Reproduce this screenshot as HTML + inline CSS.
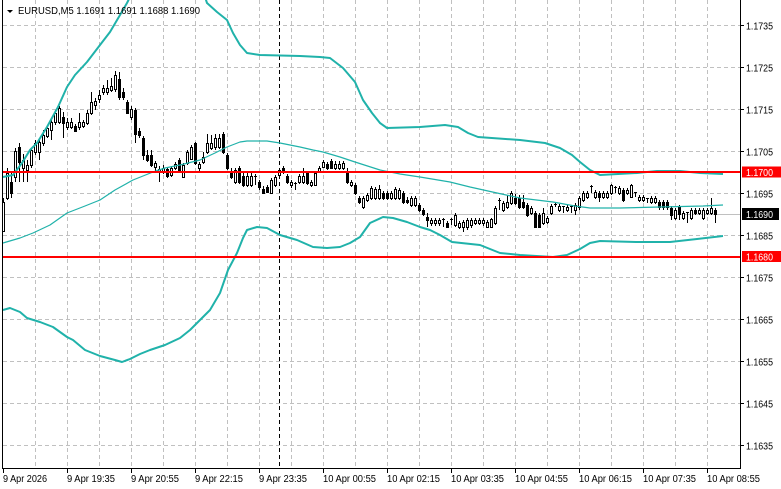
<!DOCTYPE html>
<html>
<head>
<meta charset="utf-8">
<style>
html,body{margin:0;padding:0;background:#fff;}
body{width:781px;height:489px;overflow:hidden;}
svg{display:block;}
text{font-family:"Liberation Sans",sans-serif;font-size:10px;fill:#000;}
</style>
</head>
<body>
<svg width="781" height="489" viewBox="0 0 781 489" xmlns="http://www.w3.org/2000/svg">
<rect x="0" y="0" width="781" height="489" fill="#fff"/>
<!-- grid -->
<g stroke="#c0c0c0" stroke-width="1" stroke-dasharray="4 3" shape-rendering="crispEdges" fill="none">
<path d="M3 25.5H740M3 67.5H740M3 109.5H740M3 151.5H740M3 193.5H740M3 235.5H740M3 277.5H740M3 319.5H740M3 361.5H740M3 403.5H740M3 445.5H740"/>
<path d="M35.5 0V468M67.5 0V468M99.5 0V468M131.5 0V468M163.5 0V468M195.5 0V468M227.5 0V468M259.5 0V468M291.5 0V468M323.5 0V468M355.5 0V468M387.5 0V468M419.5 0V468M451.5 0V468M483.5 0V468M515.5 0V468M547.5 0V468M579.5 0V468M611.5 0V468M643.5 0V468M675.5 0V468M707.5 0V468"/>
</g>
<!-- period separator -->
<path d="M279.5 0V468" stroke="#000" stroke-width="1" stroke-dasharray="4 3" shape-rendering="crispEdges"/>
<!-- current price line -->
<path d="M3 214.5H740" stroke="#c0c0c0" stroke-width="1" shape-rendering="crispEdges"/>
<!-- candles -->
<g shape-rendering="crispEdges" fill="none">
<path stroke="#000" stroke-width="1" d="M3.5 198V232M7.5 168V200M11.5 172V198M15.5 148V182M19.5 143V182M23.5 154V182M27.5 160V182M31.5 148V168M35.5 140V155M39.5 138V160M43.5 130V146M47.5 125V138M51.5 120V140M55.5 110V125M59.5 106V124M63.5 112V138M67.5 118V130M71.5 118V129M75.5 124V132M79.5 113V130M83.5 120V128M87.5 110V125M91.5 92V115M95.5 98V110M99.5 90V103M103.5 85V95M107.5 80V95M111.5 78V92M115.5 71V92M119.5 72V100M123.5 88V100M127.5 100V114M131.5 106V120M135.5 108V143M139.5 128V138M143.5 136V160M147.5 150V162M151.5 150V167M155.5 161V172M159.5 166V182M163.5 165V174M167.5 167V178M171.5 166V177M175.5 162V170M179.5 158V172M183.5 163V178M187.5 150V165M191.5 145V160M195.5 142V165M199.5 162V172M203.5 152V164M207.5 134V154M211.5 135V150M215.5 134V150M219.5 134V149M223.5 132V154M227.5 153V170M231.5 168V179M235.5 168V184M239.5 166V184M243.5 172V187M247.5 172V187M251.5 172V187M255.5 174V185M259.5 180V190M263.5 186V194M267.5 185V193M271.5 178V194M275.5 175V187M279.5 168V177M283.5 166V174M287.5 174V184M291.5 180V188M295.5 182V190M299.5 174V184M303.5 168V184M307.5 171V185M311.5 180V187M315.5 171V186M319.5 166V173M323.5 160V168M327.5 162V170M331.5 159V169M335.5 161V170M339.5 161V170M343.5 161V170M347.5 168V184M351.5 180V187M355.5 183V195M359.5 196V204M363.5 196V209M367.5 193V202M371.5 186V200M375.5 187V200M379.5 185V200M383.5 191V200M387.5 191V200M391.5 191V200M395.5 187V200M399.5 188V200M403.5 191V204M407.5 197V204M411.5 196V207M415.5 196V207M419.5 203V212M423.5 208V216M427.5 213V227M431.5 218V226M435.5 218V226M439.5 218V226M443.5 218V227M447.5 221V228M451.5 218V225M455.5 213V227M459.5 221V229M463.5 220V232M467.5 218V230M471.5 218V228M475.5 218V225M479.5 218V225M483.5 218V226M487.5 220V228M491.5 218V228M495.5 206V225M499.5 198V210M503.5 201V212M507.5 195V209M511.5 191V205M515.5 194V205M519.5 195V209M523.5 195V209M527.5 203V217M531.5 206V215M535.5 211V228M539.5 213V228M543.5 208V225M547.5 216V224M551.5 204V215M555.5 203V207M559.5 204V212M563.5 206V213M567.5 205V212M571.5 206V213M575.5 203V215M579.5 196V210M583.5 191V202M587.5 191V199M591.5 185V193M595.5 190V199M599.5 191V202M603.5 191V199M607.5 191V199M611.5 184V195M615.5 186V193M619.5 186V195M623.5 188V202M627.5 188V195M631.5 184V198M635.5 192V197M639.5 195V202M643.5 195V202M647.5 198V203M651.5 196V204M655.5 196V204M659.5 200V210M663.5 200V210M667.5 200V210M671.5 206V220M675.5 208V220M679.5 205V220M683.5 211V220M687.5 212V223M691.5 208V220M695.5 208V215M699.5 208V215M703.5 208V220M707.5 208V215M711.5 198V215M715.5 208V223"/>
<path stroke="#000" stroke-width="3" d="M3.5 202V232M7.5 173V199M11.5 182V194M15.5 151V178M19.5 147V163M23.5 160V169M27.5 165V171M31.5 150V166M35.5 143V153M39.5 142V153M43.5 135V144M47.5 128V137M51.5 122V131M55.5 113V123M59.5 108V123M63.5 117V124M67.5 122V128M71.5 122V128M75.5 126V132M79.5 122V128M83.5 122V127M87.5 113V124M91.5 102V114M95.5 101V106M99.5 95V100M103.5 88V93M107.5 88V93M111.5 86V91M115.5 75V90M119.5 79V98M123.5 92V98M127.5 102V114M131.5 109V118M135.5 110V135M139.5 131V136M143.5 138V156M147.5 155V161M151.5 155V166M155.5 163V168M159.5 169V172M163.5 168V173M167.5 169V177M171.5 168V176M175.5 164V169M179.5 160V171M183.5 165V178M187.5 152V164M191.5 147V160M195.5 143V164M199.5 164V169M203.5 157V163M207.5 143V153M211.5 143V149M215.5 138V148M219.5 138V148M223.5 134V153M227.5 155V169M231.5 172V178M235.5 170V183M239.5 168V183M243.5 176V186M247.5 176V186M251.5 176V186M255.5 176V177M259.5 182V188M263.5 189V194M267.5 187V193M271.5 180V194M275.5 177V186M279.5 170V176M283.5 168V173M287.5 176V183M291.5 182V186M295.5 183V184M299.5 176V183M303.5 176V183M307.5 173V184M311.5 182V186M315.5 173V186M319.5 168V172M323.5 162V168M327.5 164V169M331.5 161V169M335.5 164V169M339.5 164V169M343.5 163V169M347.5 173V183M351.5 182V186M355.5 185V194M359.5 198V203M363.5 198V208M367.5 195V201M371.5 188V199M375.5 189V199M379.5 189V199M383.5 193V199M387.5 193V199M391.5 193V199M395.5 189V199M399.5 190V199M403.5 193V203M407.5 200V203M411.5 198V206M415.5 198V206M419.5 205V211M423.5 210V215M427.5 217V221M431.5 220V224M435.5 220V224M439.5 220V224M443.5 219V220M447.5 223V228M451.5 219V220M455.5 215V226M459.5 223V228M463.5 222V228M467.5 220V228M471.5 220V226M475.5 220V224M479.5 220V224M483.5 220V224M487.5 222V228M491.5 219V228M495.5 208V224M499.5 200V201M503.5 203V211M507.5 202V208M511.5 193V204M515.5 198V204M519.5 198V208M523.5 202V208M527.5 205V216M531.5 208V214M535.5 213V228M539.5 215V228M543.5 213V224M547.5 218V223M551.5 206V214M555.5 204V205M559.5 206V211M563.5 206V207M567.5 207V211M571.5 206V207M575.5 205V211M579.5 198V208M583.5 193V201M587.5 193V198M591.5 186V187M595.5 192V198M599.5 193V198M603.5 193V198M607.5 193V198M611.5 185V194M615.5 187V188M619.5 188V194M623.5 190V201M627.5 190V194M631.5 185V198M635.5 192V193M639.5 197V201M643.5 197V201M647.5 198V199M651.5 198V203M655.5 198V203M659.5 202V208M663.5 202V208M667.5 202V208M671.5 208V216M675.5 210V219M679.5 207V215M683.5 213V219M687.5 212V213M691.5 210V219M695.5 210V214M699.5 210V214M703.5 210V219M707.5 210V214M711.5 208V214M715.5 210V215"/>
<path stroke="#fff" stroke-width="1" d="M3.5 203V231M7.5 174V198M15.5 152V177M23.5 161V168M27.5 166V170M31.5 151V165M35.5 144V152M39.5 143V152M43.5 136V143M47.5 129V136M51.5 123V130M55.5 114V122M59.5 109V122M67.5 123V127M71.5 123V127M79.5 123V127M83.5 123V126M87.5 114V123M91.5 103V113M95.5 102V105M99.5 96V99M103.5 89V92M107.5 89V92M111.5 87V90M115.5 76V89M131.5 110V117M155.5 164V167M159.5 170V171M163.5 169V172M171.5 169V175M175.5 165V168M183.5 166V177M187.5 153V163M191.5 148V159M199.5 165V168M203.5 158V162M207.5 144V152M211.5 144V148M215.5 139V147M219.5 139V147M235.5 171V182M247.5 177V185M251.5 177V185M271.5 181V193M275.5 178V185M279.5 171V175M291.5 183V185M299.5 177V182M303.5 177V182M311.5 183V185M315.5 174V185M319.5 169V171M323.5 163V167M335.5 165V168M339.5 165V168M343.5 164V168M351.5 183V185M363.5 199V207M367.5 196V200M371.5 189V198M375.5 190V198M379.5 190V198M391.5 194V198M395.5 190V198M399.5 191V198M411.5 199V205M415.5 199V205M431.5 221V223M435.5 221V223M439.5 221V223M455.5 216V225M459.5 224V227M463.5 223V227M467.5 221V227M471.5 221V225M475.5 221V223M479.5 221V223M483.5 221V223M487.5 223V227M491.5 220V227M495.5 209V223M503.5 204V210M507.5 203V207M511.5 194V203M531.5 209V213M543.5 214V223M547.5 219V222M551.5 207V213M559.5 207V210M567.5 208V210M575.5 206V210M579.5 199V207M583.5 194V200M587.5 194V197M595.5 193V197M603.5 194V197M607.5 194V197M611.5 186V193M619.5 189V193M627.5 191V193M631.5 186V197M639.5 198V200M643.5 198V200M651.5 199V202M655.5 199V202M675.5 211V218M683.5 214V218M691.5 211V218M699.5 211V213M703.5 211V218M707.5 211V213M711.5 209V213"/>
</g>
<!-- Bollinger bands -->
<g fill="none" stroke="#20b2aa" stroke-linejoin="round">
<polyline stroke-width="2" points="3,177 13,175 22,163 30,150 37,143 47,127 58,107 67,87 75,75 87,62 100,45 110,32 120,15 127,3 130,-3"/>
<polyline stroke-width="2" points="205,-3 207,3 217,12 227,20 233,33 240,45 247,53 260,55 300,56 320,57 330,58 343,68 355,82 363,100 372,113 380,123 387,128 420,127 445,125 458,127 468,133 478,137 520,140 545,143 560,148 572,155 580,162 590,170 600,175 637,173 657,171 680,171 700,173 723,174"/>
<polyline stroke-width="1.2" points="3,243 20,238 33,233 50,225 67,213 85,206 100,200 115,190 133,180 153,172 165,168 180,165 200,160 215,153 227,147 240,142 247,141 267,141 280,143 300,147 313,150 323,152 340,157 355,162 380,170 400,174 420,177 450,182 470,187 497,193 520,198 553,202 575,206 590,208 620,208 660,207 703,206 723,205"/>
<polyline stroke-width="2" points="3,310 10,308 20,312 27,318 40,322 53,327 67,337 73,340 85,350 100,356 115,360 122,362 130,359 140,354 150,350 165,345 180,338 190,330 200,320 210,310 220,293 228,270 237,253 243,238 247,230 257,227 267,228 280,235 297,240 313,247 327,248 340,247 350,243 360,237 370,223 383,217 393,218 407,222 420,227 430,230 440,235 452,242 480,245 500,253 520,255 553,257 567,255 580,249 590,243 600,241 637,242 670,242 697,239 723,236"/>
</g>
<!-- red horizontal lines -->
<rect x="3" y="171" width="737" height="2" fill="#ff0000"/>
<rect x="3" y="256" width="737" height="2" fill="#ff0000"/>
<!-- axes -->
<g stroke="#000" stroke-width="1" shape-rendering="crispEdges" fill="none">
<path d="M2.5 0V468.5M2 468.5H741M740.5 0V469"/>
<path d="M740 25.5H744M740 67.5H744M740 109.5H744M740 151.5H744M740 193.5H744M740 235.5H744M740 277.5H744M740 319.5H744M740 361.5H744M740 403.5H744M740 445.5H744"/>
<path d="M3.5 468V473M67.5 468V473M131.5 468V473M195.5 468V473M259.5 468V473M323.5 468V473M387.5 468V473M451.5 468V473M515.5 468V473M579.5 468V473M643.5 468V473M707.5 468V473"/>
</g>
<!-- price labels -->
<g>
<text x="746" y="29.5" textLength="27" lengthAdjust="spacingAndGlyphs">1.1735</text>
<text x="746" y="71.5" textLength="27" lengthAdjust="spacingAndGlyphs">1.1725</text>
<text x="746" y="113.5" textLength="27" lengthAdjust="spacingAndGlyphs">1.1715</text>
<text x="746" y="155.5" textLength="27" lengthAdjust="spacingAndGlyphs">1.1705</text>
<text x="746" y="197.5" textLength="27" lengthAdjust="spacingAndGlyphs">1.1695</text>
<text x="746" y="239.5" textLength="27" lengthAdjust="spacingAndGlyphs">1.1685</text>
<text x="746" y="281.5" textLength="27" lengthAdjust="spacingAndGlyphs">1.1675</text>
<text x="746" y="323.5" textLength="27" lengthAdjust="spacingAndGlyphs">1.1665</text>
<text x="746" y="365.5" textLength="27" lengthAdjust="spacingAndGlyphs">1.1655</text>
<text x="746" y="407.5" textLength="27" lengthAdjust="spacingAndGlyphs">1.1645</text>
<text x="746" y="449.5" textLength="27" lengthAdjust="spacingAndGlyphs">1.1635</text>
</g>
<rect x="742" y="166.5" width="39" height="11" fill="#ff0000"/>
<text x="746" y="176" textLength="27" lengthAdjust="spacingAndGlyphs" style="fill:#fff">1.1700</text>
<rect x="742" y="208" width="37" height="12" fill="#000"/>
<text x="746" y="218" textLength="27" lengthAdjust="spacingAndGlyphs" style="fill:#fff">1.1690</text>
<rect x="742" y="251" width="39" height="11" fill="#ff0000"/>
<text x="746" y="260.5" textLength="27" lengthAdjust="spacingAndGlyphs" style="fill:#fff">1.1680</text>
<!-- time labels -->
<g>
<text x="3" y="482" textLength="44" lengthAdjust="spacingAndGlyphs">9 Apr 2026</text>
<text x="67" y="482" textLength="48" lengthAdjust="spacingAndGlyphs">9 Apr 19:35</text>
<text x="131" y="482" textLength="48" lengthAdjust="spacingAndGlyphs">9 Apr 20:55</text>
<text x="195" y="482" textLength="48" lengthAdjust="spacingAndGlyphs">9 Apr 22:15</text>
<text x="259" y="482" textLength="48" lengthAdjust="spacingAndGlyphs">9 Apr 23:35</text>
<text x="323" y="482" textLength="53" lengthAdjust="spacingAndGlyphs">10 Apr 00:55</text>
<text x="387" y="482" textLength="53" lengthAdjust="spacingAndGlyphs">10 Apr 02:15</text>
<text x="451" y="482" textLength="53" lengthAdjust="spacingAndGlyphs">10 Apr 03:35</text>
<text x="515" y="482" textLength="53" lengthAdjust="spacingAndGlyphs">10 Apr 04:55</text>
<text x="579" y="482" textLength="53" lengthAdjust="spacingAndGlyphs">10 Apr 06:15</text>
<text x="643" y="482" textLength="53" lengthAdjust="spacingAndGlyphs">10 Apr 07:35</text>
<text x="707" y="482" textLength="53" lengthAdjust="spacingAndGlyphs">10 Apr 08:55</text>
</g>
<!-- header -->
<polygon points="7,10 13,10 10,13" fill="#000"/>
<text x="18" y="14" textLength="182" lengthAdjust="spacingAndGlyphs">EURUSD,M5  1.1691 1.1691 1.1688 1.1690</text>
</svg>
</body>
</html>
